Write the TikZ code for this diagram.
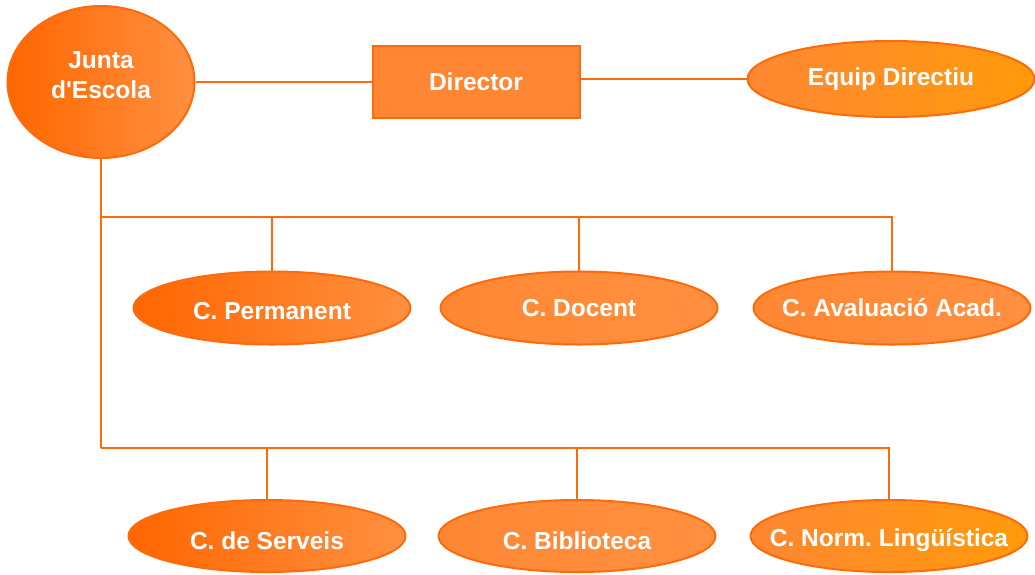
\documentclass[tikz,border=0pt]{standalone}
\usepackage{fontspec}
\setmainfont{Liberation Sans}[Ligatures=TeXOff]
\usepackage{tikz}
\usetikzlibrary{shapes}
\frenchspacing

\definecolor{LineOrange}{HTML}{FF6A0A}
\definecolor{DeepOrange}{HTML}{FF6600}
\definecolor{MidOrange}{HTML}{FF8733}
\definecolor{LightOrange}{HTML}{FF9040}
\definecolor{GoldOrange}{HTML}{FF9A0A}

\tikzset{
  organ/.style={draw=LineOrange,line width=2pt,inner sep=0pt,text=white,
    font=\fontsize{24.5}{30}\selectfont\bfseries,align=center},
  widetext/.style={inner xsep=-30pt},
  leftfill/.style={left color=DeepOrange,right color=LightOrange},
  midfill/.style={left color=MidOrange,right color=LightOrange},
  rightfill/.style={left color=MidOrange,right color=GoldOrange},
  link/.style={draw=LineOrange,line width=2pt}
}

\begin{document}
\begin{tikzpicture}[x=1pt,y=-1pt]
		\useasboundingbox (0,0) rectangle (1035,574);

		\node (JuntaEscola) at (101,82) [organ,leftfill,shape=ellipse,text depth=14pt,minimum width=187,minimum height=152]{Junta\\d'Escola};
		\node (Director) at (476,82) [organ,fill=MidOrange,shape=rectangle,minimum width=207,minimum height=72]{Director};
		\node (EquipDirectiu) at (891,79) [organ,widetext,rightfill,shape=ellipse,minimum width=287,minimum height=76]{Equip Directiu};

		\node (CPermanent) at (272,308) [organ,widetext,leftfill,shape=ellipse,text height=24pt,minimum width=277,minimum height=73]{C. Permanent};
		\node (CDocent) at (579,308) [organ,widetext,midfill,shape=ellipse,minimum width=277,minimum height=73]{C. Docent};
		\node (CAvaluacio) at (892,308) [organ,widetext,left color=MidOrange,right color=LightOrange,shape=ellipse,minimum width=277,minimum height=73]{C. Avaluació Acad.};

		\node (CServeis) at (267,536) [organ,widetext,leftfill,shape=ellipse,text height=27pt,minimum width=277,minimum height=72]{C. de Serveis};
		\node (CBiblioteca) at (577,536) [organ,widetext,midfill,shape=ellipse,text height=27pt,minimum width=277,minimum height=72]{C. Biblioteca};
		\node (CNorm) at (889,536) [organ,widetext,rightfill,shape=ellipse,text height=27pt,minimum width=277,minimum height=72]{C. Norm. Lingüística};

		\coordinate (BranchA) at (101,217);
		\coordinate (BranchB) at (101,448);

		\draw [link] (JuntaEscola.east) -- (JuntaEscola.east -| Director.west);
		\draw [link] (EquipDirectiu.west -| Director.east) -- (EquipDirectiu.west);

		\draw [link] (JuntaEscola.south) -- (BranchB);

		\draw [link] (BranchA) -| (CAvaluacio.north);
		\draw [link] (CPermanent.north) -- (CPermanent.north |- BranchA);
		\draw [link] (CDocent.north) -- (CDocent.north |- BranchA);

		\draw [link] (BranchB) -| (CNorm.north);
		\draw [link] (CServeis.north) -- (CServeis.north |- BranchB);
		\draw [link] (CBiblioteca.north) -- (CBiblioteca.north |- BranchB);
	\end{tikzpicture}
\end{document}
